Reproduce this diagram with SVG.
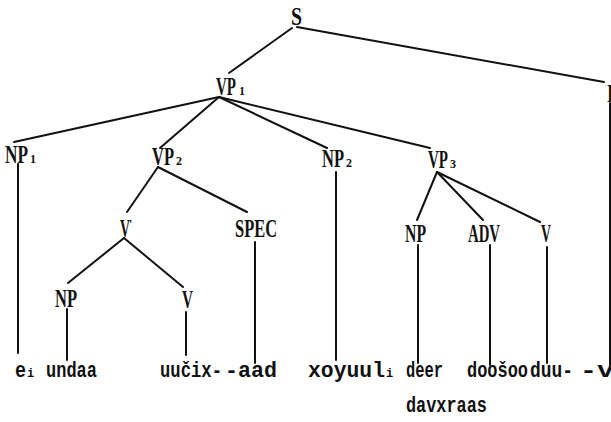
<svg xmlns="http://www.w3.org/2000/svg" width="611" height="422" viewBox="0 0 611 422">
<style>
.lab{font-family:"Liberation Serif","DejaVu Serif",serif;font-weight:bold;font-size:25px;fill:#111}
.sub{font-family:"Liberation Serif","DejaVu Serif",serif;font-weight:bold;font-size:12px;fill:#111}
.w{font-family:"Liberation Mono","DejaVu Sans Mono",monospace;font-weight:bold;font-size:22px;fill:#111}
.ws{font-family:"Liberation Mono","DejaVu Sans Mono",monospace;font-weight:bold;font-size:12px;fill:#111}
.e{stroke:#111;stroke-width:2;fill:none;stroke-linecap:round}
</style>
<rect width="611" height="422" fill="#fff"/>
<g id="connectors">
<line class="e" x1="292" y1="28" x2="229" y2="73"/>
<line class="e" x1="297" y1="27" x2="604" y2="82"/>
<line class="e" x1="219" y1="97" x2="14" y2="142"/>
<line class="e" x1="219" y1="97" x2="160" y2="148"/>
<line class="e" x1="219" y1="97" x2="327" y2="148"/>
<line class="e" x1="219" y1="97" x2="430" y2="148"/>
<line class="e" x1="158" y1="167" x2="127" y2="212"/>
<line class="e" x1="158" y1="167" x2="247" y2="212"/>
<line class="e" x1="124" y1="238" x2="68" y2="283"/>
<line class="e" x1="124" y1="238" x2="183" y2="287"/>
<line class="e" x1="437" y1="172" x2="417" y2="220"/>
<line class="e" x1="437" y1="172" x2="483" y2="220"/>
<line class="e" x1="437" y1="172" x2="540" y2="222"/>
<line class="e" x1="18" y1="164" x2="18" y2="353"/>
<line class="e" x1="67" y1="309" x2="67" y2="360"/>
<line class="e" x1="186" y1="312" x2="186" y2="355"/>
<line class="e" x1="255" y1="242" x2="255" y2="363"/>
<line class="e" x1="336" y1="172" x2="336" y2="360"/>
<line class="e" x1="418" y1="245" x2="418" y2="363"/>
<line class="e" x1="490" y1="245" x2="490" y2="365"/>
<line class="e" x1="547" y1="247" x2="547" y2="363"/>
<line class="e" x1="610" y1="103" x2="610" y2="367"/>
</g>
<g id="S"><text class="lab" x="291" y="25" textLength="11" lengthAdjust="spacingAndGlyphs">S</text></g>
<g id="INFL"><text class="lab" x="607" y="102" textLength="40" lengthAdjust="spacingAndGlyphs">INFL</text></g>
<g id="VP1"><text class="lab" x="216" y="95" textLength="20" lengthAdjust="spacingAndGlyphs">VP</text><text class="sub" x="239" y="95">1</text></g>
<g id="NP1"><text class="lab" x="5" y="163" textLength="23" lengthAdjust="spacingAndGlyphs">NP</text><text class="sub" x="30" y="163">1</text></g>
<g id="VP2"><text class="lab" x="152" y="165" textLength="22" lengthAdjust="spacingAndGlyphs">VP</text><text class="sub" x="176" y="165">2</text></g>
<g id="NP2"><text class="lab" x="322" y="167" textLength="22" lengthAdjust="spacingAndGlyphs">NP</text><text class="sub" x="346" y="167">2</text></g>
<g id="VP3"><text class="lab" x="428" y="168" textLength="20" lengthAdjust="spacingAndGlyphs">VP</text><text class="sub" x="450" y="168">3</text></g>
<g id="Vbar"><text class="lab" x="120" y="237" textLength="10" lengthAdjust="spacingAndGlyphs">V</text><text class="sub" x="129" y="228">'</text></g>
<g id="SPEC"><text class="lab" x="235" y="237" textLength="42" lengthAdjust="spacingAndGlyphs">SPEC</text></g>
<g id="NP3"><text class="lab" x="405" y="242" textLength="21" lengthAdjust="spacingAndGlyphs">NP</text></g>
<g id="ADV"><text class="lab" x="468" y="242" textLength="32" lengthAdjust="spacingAndGlyphs">ADV</text></g>
<g id="V3"><text class="lab" x="541" y="242" textLength="10" lengthAdjust="spacingAndGlyphs">V</text></g>
<g id="NP4"><text class="lab" x="55" y="307" textLength="22" lengthAdjust="spacingAndGlyphs">NP</text></g>
<g id="V4"><text class="lab" x="182" y="308" textLength="11" lengthAdjust="spacingAndGlyphs">V</text></g>
<g id="words">
<text class="w" x="15" y="377" textLength="11" lengthAdjust="spacingAndGlyphs">e</text><text class="ws" x="27" y="377">i</text>
<text class="w" x="46" y="377" textLength="51" lengthAdjust="spacingAndGlyphs">undaa</text>
<text class="w" x="160" y="377" textLength="62" lengthAdjust="spacingAndGlyphs">uučix-</text>
<text class="w" x="225" y="377" textLength="52" lengthAdjust="spacingAndGlyphs">-aad</text>
<text class="w" x="308" y="377" textLength="77" lengthAdjust="spacingAndGlyphs">xoyuul</text><text class="ws" x="386" y="377">i</text>
<text class="w" x="406" y="377" textLength="37" lengthAdjust="spacingAndGlyphs">deer</text>
<text class="w" x="467" y="377" textLength="61" lengthAdjust="spacingAndGlyphs">doošoo</text>
<text class="w" x="530" y="377" textLength="43" lengthAdjust="spacingAndGlyphs">duu-</text>
<text class="w" x="580" y="377" textLength="34" lengthAdjust="spacingAndGlyphs">-v</text>
<text class="w" x="406" y="412" textLength="81" lengthAdjust="spacingAndGlyphs">davxraas</text>
</g>
</svg>
